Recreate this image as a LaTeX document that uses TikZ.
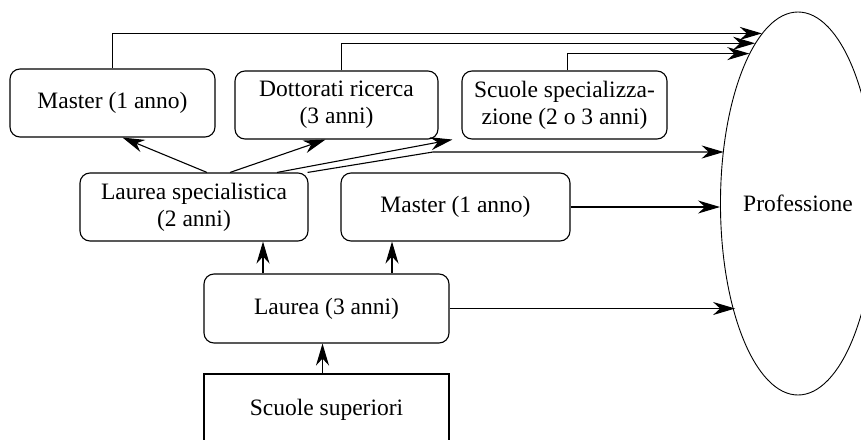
\documentclass[tikz,border=0pt]{standalone}
\usepackage{fontspec}
\setmainfont{Liberation Serif}
\usetikzlibrary{shapes.geometric,arrows.meta}

\begin{document}
\begin{tikzpicture}[x=1pt,y=-1pt,
  box/.style={draw,rounded corners=10pt,line width=1.1pt,align=center,
    minimum height=68pt,inner sep=0pt,font=\fontsize{23.5}{27}\selectfont},
  arr/.style={line width=1.1pt,-{Stealth[length=22pt,width=13pt,inset=7pt]}}]
  \useasboundingbox (0,0) rectangle (861,439);
  \clip (0,0) rectangle (861,439);
  % Top row
  \node[box,minimum width=205pt] (m1) at (112.5,103) {Master (1 anno)};
  \node[box,minimum width=203pt] (dr) at (336.5,105) {Dottorati ricerca\\(3 anni)};
  \node[box,minimum width=205pt] (ss) at (564.5,105) {Scuole specializza-\\zione (2 o 3 anni)};
  % Middle rows
  \node[box,minimum width=228pt] (ls) at (194,207) {Laurea specialistica\\(2 anni)};
  \node[box,minimum width=229pt] (m2) at (455.5,207) {Master (1 anno)};
  \node[box,minimum width=245pt,minimum height=69pt] (l3) at (326.5,308.5) {Laurea (3 anni)};
  \node[box,rounded corners=0pt,minimum width=245pt,minimum height=72pt] (sup) at (326.5,410) {Scuole superiori};
  % Right ellipse
  \node[draw,ellipse,line width=0.9pt,minimum width=138pt,minimum height=383pt,inner sep=0pt,
    font=\fontsize{23.5}{27}\selectfont] (prof) at (798,203.5) {Professione};
  % Arrows
  \draw[arr] (m1.north) |- (prof.102.4);
  \draw[arr] ([xshift=5pt]dr.north) |- (prof.105.6);
  \draw[arr] ([xshift=3pt]ss.north) |- (prof.108.2);
  \draw[arr] ([xshift=13pt]ls.north) -- ([xshift=10pt]m1.south);
  \draw[arr] ([xshift=36pt]ls.north) -- ([xshift=-11pt]dr.south);
  \draw[arr] ([xshift=83pt]ls.north) -- ([xshift=-9pt]ss.south west);
  \coordinate (k1) at (433,152);
  \draw[arr] ([xshift=-1pt]ls.north east) -- (k1) -- (k1 -| prof.142.8);
  \draw[arr] (m2.east) -- (m2.east -| prof.west);
  \draw[arr] (l3.east) -- (l3.east -| prof.241);
  \draw[arr] ([xshift=-63.5pt]l3.north) -- ([xshift=-63.5pt]l3.north |- ls.south);
  \draw[arr] ([xshift=65.5pt]l3.north) -- ([xshift=65.5pt]l3.north |- m2.south);
  \draw[arr] ([xshift=-4pt]sup.north) -- ([xshift=-4pt]l3.south);
\end{tikzpicture}
\end{document}
